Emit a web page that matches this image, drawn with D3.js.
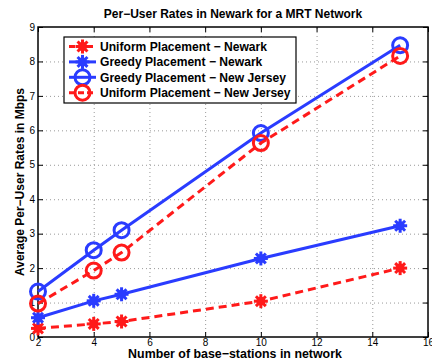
<!DOCTYPE html>
<html>
<head>
<meta charset="utf-8">
<script src="https://cdn.jsdelivr.net/npm/d3@7"></script>
<style>
  html, body { margin: 0; padding: 0; background: #fff; }
  svg { display: block; font-family: "Liberation Sans", Arial, Helvetica, sans-serif; }
</style>
</head>
<body>
<svg id="chart" width="432" height="360"></svg>
<script>
// Per-user rates (Mbps) versus number of base stations
const stations = [2, 4, 5, 10, 15];
const uniformNewark = [0.25, 0.38, 0.45, 1.04, 2.0];
const greedyNewark = [0.56, 1.05, 1.24, 2.28, 3.23];
const greedyNJ = [1.32, 2.52, 3.1, 5.92, 8.47];
const uniformNJ = [0.97, 1.93, 2.45, 5.63, 8.16];

const xTicks = [2, 4, 6, 8, 10, 12, 14, 16];
const yTicks = [0, 1, 2, 3, 4, 5, 6, 7, 8, 9];

const RED = "#ff1a1a";
const BLUE = "#2a3cff";

const series = [
  { name: "Uniform Placement \u2212 Newark", values: uniformNewark, color: RED, dashed: true, marker: "star" },
  { name: "Greedy Placement \u2212 Newark", values: greedyNewark, color: BLUE, dashed: false, marker: "star" },
  { name: "Greedy Placement \u2212 New Jersey", values: greedyNJ, color: BLUE, dashed: false, marker: "circle" },
  { name: "Uniform Placement \u2212 New Jersey", values: uniformNJ, color: RED, dashed: true, marker: "circle" }
];

const svg = d3.select("#chart");
const margin = { left: 38, right: 4, top: 27, bottom: 23 };
const W = 432, H = 360;
const x = d3.scaleLinear().domain([2, 16]).range([margin.left, W - margin.right]);
const y = d3.scaleLinear().domain([0, 9]).range([H - margin.bottom, margin.top]);

const x0 = x.range()[0], x1 = x.range()[1], y0 = y.range()[0], y1 = y.range()[1];

// grid
const grid = svg.append("g").attr("stroke", "#999").attr("stroke-width", 1).attr("stroke-dasharray", "1,3");
grid.selectAll("line.v").data(xTicks.slice(1, -1)).join("line")
  .attr("x1", d => x(d) + 0.5).attr("x2", d => x(d) + 0.5).attr("y1", y0).attr("y2", y1);
grid.selectAll("line.h").data(yTicks.slice(1, -1)).join("line")
  .attr("y1", d => y(d) + 0.5).attr("y2", d => y(d) + 0.5).attr("x1", x0).attr("x2", x1);

// axes with inward ticks
const tickLen = 5;
const xAxis = svg.append("g").attr("transform", `translate(0,${y0})`)
  .call(d3.axisBottom(x).tickValues(xTicks).tickSizeInner(-tickLen).tickSizeOuter(0).tickPadding(2));
const xAxisTop = svg.append("g").attr("transform", `translate(0,${y1})`)
  .call(d3.axisTop(x).tickValues(xTicks).tickSizeInner(-tickLen).tickSizeOuter(0).tickFormat(""));
const yAxis = svg.append("g").attr("transform", `translate(${x0},0)`)
  .call(d3.axisLeft(y).tickValues(yTicks).tickSizeInner(-tickLen).tickSizeOuter(0).tickPadding(3));
const yAxisRight = svg.append("g").attr("transform", `translate(${x1},0)`)
  .call(d3.axisRight(y).tickValues(yTicks).tickSizeInner(-tickLen).tickSizeOuter(0).tickFormat(""));

[xAxis, xAxisTop, yAxis, yAxisRight].forEach(a => {
  a.select(".domain").remove();
  a.selectAll(".tick line").attr("stroke", "#000");
  a.selectAll("text").attr("font-size", 10).attr("fill", "#000")
    .attr("font-family", "'Liberation Sans', Arial, sans-serif");
});

// box
svg.append("rect").attr("x", x0).attr("y", y1).attr("width", x1 - x0).attr("height", y0 - y1)
  .attr("fill", "none").attr("stroke", "#000").attr("stroke-width", 1.5);

// marker shapes
function drawMarker(g, type, cx, cy, color) {
  if (type === "circle") {
    g.append("circle").attr("cx", cx).attr("cy", cy).attr("r", 7.5)
      .attr("fill", "none").attr("stroke", color).attr("stroke-width", 3);
  } else {
    const r = 7;
    const angles = [0, 45, 90, 135];
    angles.forEach(a => {
      const rad = a * Math.PI / 180;
      g.append("line")
        .attr("x1", cx - r * Math.cos(rad)).attr("y1", cy - r * Math.sin(rad))
        .attr("x2", cx + r * Math.cos(rad)).attr("y2", cy + r * Math.sin(rad))
        .attr("stroke", color).attr("stroke-width", 3);
    });
    g.append("circle").attr("cx", cx).attr("cy", cy).attr("r", 4.5).attr("fill", color);
  }
}

const line = d3.line().x((d, i) => x(stations[i])).y(d => y(d));
const plot = svg.append("g");
series.forEach(s => {
  const g = plot.append("g");
  g.append("path").attr("d", line(s.values)).attr("fill", "none")
    .attr("stroke", s.color).attr("stroke-width", 3)
    .attr("stroke-dasharray", s.dashed ? "8,5" : null);
  s.values.forEach((v, i) => drawMarker(g, s.marker, x(stations[i]), y(v), s.color));
});

// legend
const lg = svg.append("g");
const lgX = 64, lgY = 37, lgW = 232, lgH = 66;
lg.append("rect").attr("x", lgX).attr("y", lgY).attr("width", lgW).attr("height", lgH)
  .attr("fill", "#fff").attr("stroke", "#000").attr("stroke-width", 1.2);
series.forEach((s, i) => {
  const cy = 46.5 + i * 15.4;
  lg.append("line").attr("x1", 69).attr("x2", 96).attr("y1", cy).attr("y2", cy)
    .attr("stroke", s.color).attr("stroke-width", 3)
    .attr("stroke-dasharray", s.dashed ? "6,3" : null);
  drawMarker(lg, s.marker, 82.5, cy, s.color);
  lg.append("text").attr("x", 100).attr("y", cy + 4.3).text(s.name)
    .attr("font-size", 12.1).attr("font-weight", "bold").attr("fill", "#000");
});

// title & axis labels
svg.append("text").attr("x", (x0 + x1) / 2).attr("y", 18).attr("text-anchor", "middle")
  .attr("font-size", 12).attr("font-weight", "bold").text("Per\u2212User Rates in Newark for a MRT Network");
svg.append("text").attr("x", (x0 + x1) / 2 + 2).attr("y", 358).attr("text-anchor", "middle")
  .attr("font-size", 12.4).attr("font-weight", "bold").text("Number of base\u2212stations in network");
svg.append("text").attr("transform", `translate(24,${(y0 + y1) / 2}) rotate(-90)`).attr("text-anchor", "middle")
  .attr("font-size", 12).attr("font-weight", "bold").text("Average Per\u2212User Rates in Mbps");
</script>
</body>
</html>
